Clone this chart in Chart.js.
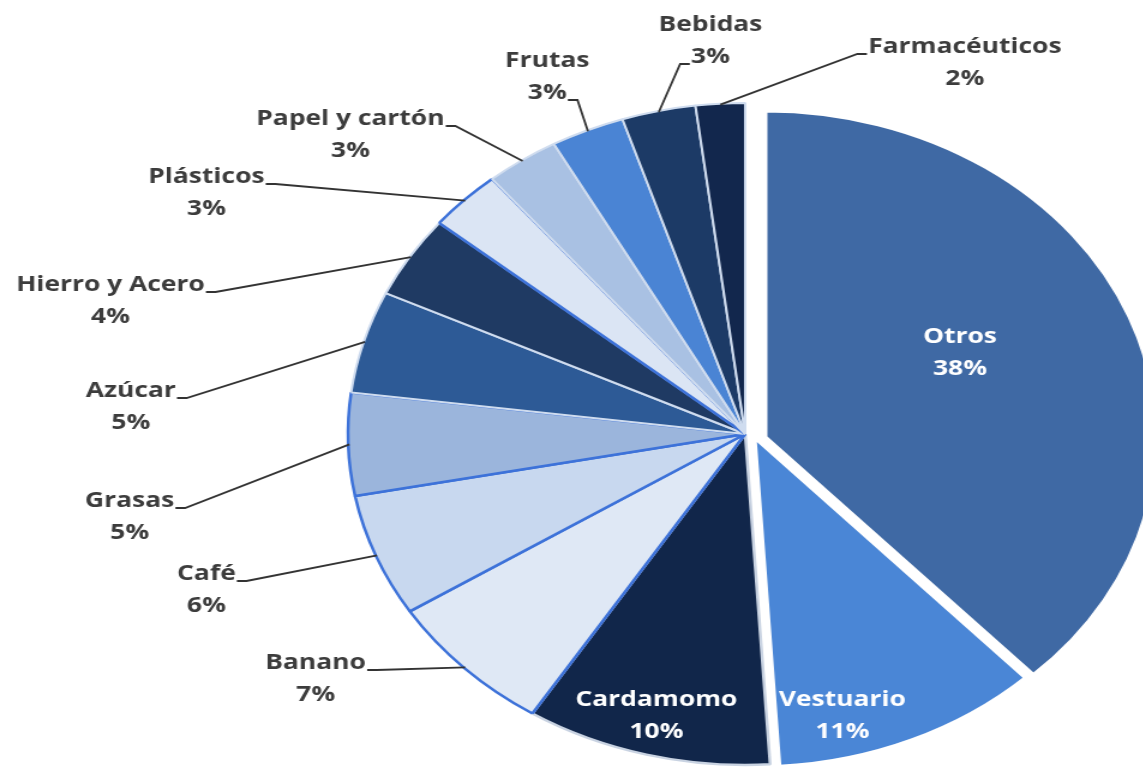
<!DOCTYPE html>
<html>
<head>
<meta charset="utf-8">
<script src="https://cdn.jsdelivr.net/npm/chart.js@4.4.1/dist/chart.umd.min.js"></script>
<style>
  html, body { margin: 0; padding: 0; background: #fff; overflow: hidden; }
  #wrap { width: 953px; height: 769px; transform: scaleX(1.2); transform-origin: 0 0; }
</style>
</head>
<body>
<div id="wrap"><canvas id="myChart" width="953" height="769"></canvas></div>
<script>
const categorias = ['Otros', 'Vestuario', 'Cardamomo', 'Banano', 'Café', 'Grasas', 'Azúcar',
  'Hierro y Acero', 'Plásticos', 'Papel y cartón', 'Frutas', 'Bebidas', 'Farmacéuticos']
const porcentajes = [38, 11, 10, 7, 6, 5, 5, 4, 3, 3, 3, 3, 2]

const colores = ['#3f69a4', '#4a86d6', '#11264a', '#dfe8f5', '#c8d8ef', '#9bb5dc', '#2d5a96',
  '#1f3a63', '#dbe5f4', '#a9c1e3', '#4a84d4', '#1c3a66', '#12274d']
const bordes = ['#ffffff', '#ffffff', '#c9d3e2', '#3d72d9', '#3d72d9', '#3d72d9', '#cfdcef',
  '#cfdcef', '#3d72d9', '#cfdcef', '#cfdcef', '#cfdcef', '#cfdcef']
const grosor = [3, 3, 2.5, 2.5, 2.5, 2.5, 2, 2, 2.5, 2, 2, 2, 2]

// porciones separadas del pastel: [indice, dx, dy, cambio de radio]
const separadas = [[0, 17, 3, -5], [1, 8, 4, -2]]

// donde va cada etiqueta (centro del bloque, relativo al centro del pastel) y de que lado sale la linea
const posEtiquetas = [
  [179, -81, 'dentro'],
  [81, 282, 'dentro'],
  [-74, 282, 'dentro'],
  [-358, 245, 'nombreDer'],
  [-449, 156, 'nombreDer'],
  [-513, 83, 'nombreDer'],
  [-512, -27, 'nombreDer'],
  [-529, -133, 'nombreDer'],
  [-449, -241, 'nombreDer'],
  [-329, -299, 'nombreDer'],
  [-165, -357, 'pctDer'],
  [-29, -393, 'pctIzq'],
  [183, -371, 'nombreIzq']
]

const separarPlugin = {
  id: 'separar',
  afterDatasetsUpdate(chart) {
    const arcs = chart.getDatasetMeta(0).data
    separadas.forEach(([i, dx, dy, dr]) => {
      arcs[i].x += dx
      arcs[i].y += dy
      arcs[i].outerRadius += dr
    })
  }
}

const etiquetasPlugin = {
  id: 'etiquetas',
  afterDatasetsDraw(chart) {
    const c = chart.ctx
    const area = chart.chartArea
    const x0 = (area.left + area.right) / 2
    const y0 = (area.top + area.bottom) / 2
    const arcs = chart.getDatasetMeta(0).data
    c.save()
    c.font = 'bold 22px "Open Sans"'
    c.textAlign = 'center'
    c.textBaseline = 'middle'
    arcs.forEach((arc, i) => {
      const [dx, dy, tipo] = posEtiquetas[i]
      const cx = x0 + dx
      const cy = y0 + dy
      const nombre = categorias[i]
      const pct = porcentajes[i] + '%'
      if (tipo === 'dentro') {
        c.fillStyle = '#ffffff'
      } else {
        c.fillStyle = '#3c3c3c'
        const mid = (arc.startAngle + arc.endAngle) / 2
        const r = arc.outerRadius - 1
        const ex = arc.x + Math.cos(mid) * r
        const ey = arc.y + Math.sin(mid) * r
        let ax, ay, dir
        if (tipo === 'nombreDer') {
          ax = cx + c.measureText(nombre).width / 2 + 1; ay = cy - 16 + 7; dir = 1
        } else if (tipo === 'nombreIzq') {
          ax = cx - c.measureText(nombre).width / 2 - 1; ay = cy - 16 + 7; dir = -1
        } else if (tipo === 'pctDer') {
          ax = cx + c.measureText(pct).width / 2 + 1; ay = cy + 16 + 7; dir = 1
        } else {
          ax = cx - c.measureText(pct).width / 2 - 1; ay = cy + 16 + 7; dir = -1
        }
        c.beginPath()
        c.moveTo(ax, ay)
        c.lineTo(ax + dir * 8, ay)
        c.lineTo(ex, ey)
        c.strokeStyle = '#333333'
        c.lineWidth = 1.8
        c.stroke()
      }
      c.fillText(nombre, cx, cy - 16)
      c.fillText(pct, cx, cy + 16)
    })
    c.restore()
  }
}

const ctx = document.getElementById('myChart')

new Chart(ctx, {
  type: 'pie',
  data: {
    labels: categorias,
    datasets: [
      {
        data: porcentajes,
        backgroundColor: colores,
        borderColor: bordes,
        borderWidth: grosor
      }
    ]
  },
  options: {
    responsive: false,
    animation: false,
    radius: 331,
    layout: { padding: { left: 289, right: 0, top: 99, bottom: 0 } },
    plugins: {
      legend: { display: false },
      tooltip: { enabled: false }
    }
  },
  plugins: [separarPlugin, etiquetasPlugin]
})
</script>
</body>
</html>
